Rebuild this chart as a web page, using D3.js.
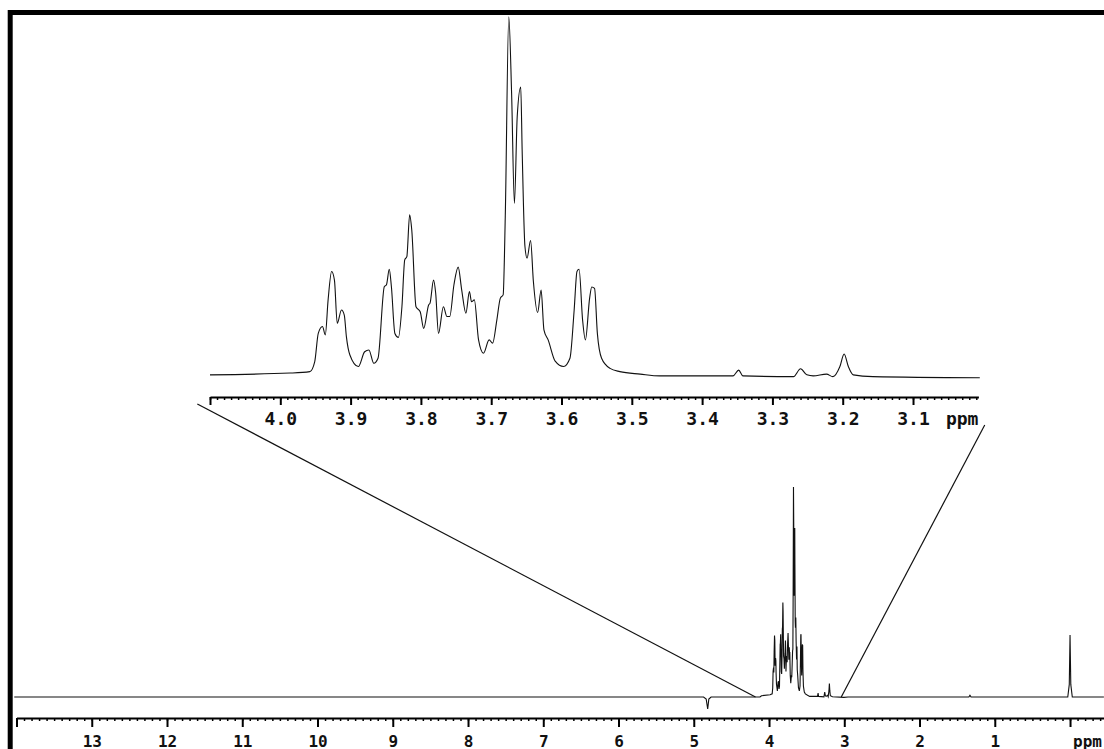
<!DOCTYPE html>
<html>
<head>
<meta charset="utf-8">
<script src="https://cdn.jsdelivr.net/npm/d3@7"></script>
<style>
  body { margin: 0; background: #fff; }
  svg { display: block; }
</style>
</head>
<body>
<div id="chart"></div>
<script>
// Expanded region (3.0 - 4.1 ppm)
const clusterPpm = [4.100, 3.986, 3.958, 3.951, 3.946, 3.940, 3.936, 3.932, 3.927, 3.923,
    3.919, 3.913, 3.909, 3.906, 3.901, 3.889, 3.880, 3.874, 3.867, 3.861,
    3.852, 3.849, 3.845, 3.842, 3.837, 3.832, 3.827, 3.823, 3.820, 3.816,
    3.813, 3.807, 3.801, 3.796, 3.789, 3.787, 3.782, 3.779, 3.775, 3.768,
    3.763, 3.759, 3.753, 3.747, 3.742, 3.736, 3.731, 3.728, 3.724, 3.718,
    3.711, 3.703, 3.698, 3.692, 3.687, 3.683, 3.680, 3.675, 3.671, 3.667,
    3.663, 3.658, 3.656, 3.652, 3.649, 3.644, 3.640, 3.634, 3.629, 3.625,
    3.619, 3.609, 3.597, 3.588, 3.582, 3.578, 3.575, 3.570, 3.566, 3.560,
    3.557, 3.553, 3.549, 3.543, 3.531, 3.517, 3.488, 3.460, 3.356, 3.348,
    3.342, 3.270, 3.260, 3.251, 3.242, 3.223, 3.214, 3.204, 3.198, 3.192,
    3.185, 3.157, 3.005];
const clusterIntensity = [0.6, 1.1, 1.5, 4.3, 12.1, 14.0, 11.7, 21.4, 29.3, 26.9,
    14.9, 18.6, 17.2, 11.2, 6.1, 2.9, 7.0, 7.5, 3.8, 5.2,
    25.1, 25.6, 29.9, 25.1, 12.1, 11.0, 19.5, 32.5, 33.4, 45.0,
    40.8, 19.5, 18.1, 13.5, 20.0, 20.5, 26.9, 23.3, 12.1, 19.5,
    16.8, 16.8, 25.6, 30.5, 24.2, 17.7, 23.7, 20.9, 21.4, 10.3,
    6.6, 10.3, 9.4, 15.8, 21.9, 22.8, 44.5, 100, 78.8, 48.2,
    72.3, 80.5, 63.1, 36.2, 33.0, 37.9, 26.5, 17.9, 24.1, 13.1,
    10.3, 4.4, 2.9, 5.2, 18.6, 29.3, 29.9, 15.8, 10.3, 21.9,
    25.0, 24.6, 12.1, 5.2, 2.4, 1.5, 0.8, 0.3, 0.3, 1.9,
    0.3, 0.1, 2.3, 0.6, 0.3, 0.8, 0.1, 2.9, 6.4, 2.9,
    0.6, 0.1, -0.2];

// Full spectrum outside the expanded region (water dip, TMS)
const lowFieldPpm = [14.03, 4.87, 4.835, 4.815, 4.80, 4.77, 4.12];
const lowFieldIntensity = [0, 0, -1.0, -5.7, -1.0, 0, 0];
const highFieldPpm = [2.95, 1.345, 1.33, 1.315, 0.03, 0.01, 0.0, -0.01, -0.03, -0.45];
const highFieldIntensity = [0, 0, 0.8, 0, 0, 6, 29.5, 6, 0, 0];

// Axis ticks
const mainMajorTicks = [14, 13, 12, 11, 10, 9, 8, 7, 6, 5, 4, 3, 2, 1, 0];
const mainTickLabels = ["", "13", "12", "11", "10", "9", "8", "7", "6", "5", "4", "3", "2", "1", ""];
const insetMajorTicks = [4.1, 4.0, 3.9, 3.8, 3.7, 3.6, 3.5, 3.4, 3.3, 3.2, 3.1];
const insetTickLabels = ["", "4.0", "3.9", "3.8", "3.7", "3.6", "3.5", "3.4", "3.3", "3.2", "3.1"];

const width = 1104;
const height = 749;
const fontFamily = "'DejaVu Sans Mono', 'Liberation Mono', monospace";

const svg = d3.select("#chart")
    .append("svg")
    .attr("width", width)
    .attr("height", height);

// Scales
const xMain = d3.scaleLinear().domain([14, -0.45]).range([16.5, 1103.9]);
const yMain = d3.scaleLinear().domain([0, 100]).range([697, 487]);
const xInset = d3.scaleLinear().domain([4.1, 3.007]).range([210, 978.4]);
const yInset = d3.scaleLinear().domain([0, 100]).range([377, 16.7]);

const mainAxisY = 718;
const insetAxisY = 397;

// Build point lists
const cluster = clusterPpm.map((p, i) => ({ ppm: p, v: clusterIntensity[i] }));
const full = lowFieldPpm.map((p, i) => ({ ppm: p, v: lowFieldIntensity[i] }))
    .concat(cluster)
    .concat(highFieldPpm.map((p, i) => ({ ppm: p, v: highFieldIntensity[i] })));

// Main spectrum
svg.append("path")
    .datum(full)
    .attr("fill", "none")
    .attr("stroke", "#111")
    .attr("stroke-width", 1.1)
    .attr("d", d3.line().x(d => xMain(d.ppm)).y(d => yMain(d.v)));

// Inset spectrum
svg.append("path")
    .datum(cluster)
    .attr("fill", "none")
    .attr("stroke", "#111")
    .attr("stroke-width", 1.1)
    .attr("d", d3.line().curve(d3.curveMonotoneX).x(d => xInset(d.ppm)).y(d => yInset(d.v)));

// Axis helper
function drawAxis(scale, y, majors, labels, minors, majorLen, fontSize, labelY) {
    const g = svg.append("g").attr("transform", `translate(0, ${y})`);

    const minorG = g.append("g")
        .call(d3.axisBottom(scale).tickValues(minors).tickSize(3).tickFormat(""));
    minorG.select(".domain").remove();
    minorG.selectAll("line").attr("stroke-width", 1.5);

    const majorG = g.append("g")
        .call(d3.axisBottom(scale)
            .tickValues(majors)
            .tickSize(majorLen)
            .tickSizeOuter(0)
            .tickFormat((d, i) => labels[i]));
    majorG.select(".domain").attr("stroke-width", 2);
    majorG.selectAll("line").attr("stroke-width", 2);
    majorG.attr("font-family", null).attr("font-size", null);
    majorG.selectAll("text")
        .attr("y", labelY)
        .attr("dy", 0)
        .style("font-family", fontFamily)
        .style("font-weight", "bold")
        .style("font-size", fontSize + "px")
        .attr("fill", "#111");
    return g;
}

const mainMinor = d3.range(140, -5, -1).map(d => d / 10);
drawAxis(xMain, mainAxisY, mainMajorTicks, mainTickLabels, mainMinor, 9, 16, 29);

const insetMinor = d3.range(410, 300, -1).map(d => d / 100);
drawAxis(xInset, insetAxisY, insetMajorTicks, insetTickLabels, insetMinor, 8, 18, 28);

// "ppm" unit labels
svg.append("text")
    .attr("x", xMain(-0.04))
    .attr("y", mainAxisY + 29)
    .style("font-family", fontFamily)
    .style("font-weight", "bold")
    .style("font-size", "16px")
    .attr("fill", "#111")
    .text("ppm");

svg.append("text")
    .attr("x", xInset(3.007))
    .attr("y", insetAxisY + 28)
    .attr("text-anchor", "end")
    .style("font-family", fontFamily)
    .style("font-weight", "bold")
    .style("font-size", "18px")
    .attr("fill", "#111")
    .text("ppm");

// Expansion guide lines
svg.append("line")
    .attr("x1", xInset(4.118)).attr("y1", insetAxisY + 7)
    .attr("x2", xMain(4.18)).attr("y2", yMain(0))
    .attr("stroke", "#111").attr("stroke-width", 1.2);

svg.append("line")
    .attr("x1", xInset(2.998)).attr("y1", insetAxisY + 28)
    .attr("x2", xMain(3.04)).attr("y2", yMain(0))
    .attr("stroke", "#111").attr("stroke-width", 1.2);

// Frame
svg.append("rect")
    .attr("x", 10.2)
    .attr("y", 12.5)
    .attr("width", 1200)
    .attr("height", 800)
    .attr("fill", "none")
    .attr("stroke", "#000")
    .attr("stroke-width", 5);
</script>
</body>
</html>
